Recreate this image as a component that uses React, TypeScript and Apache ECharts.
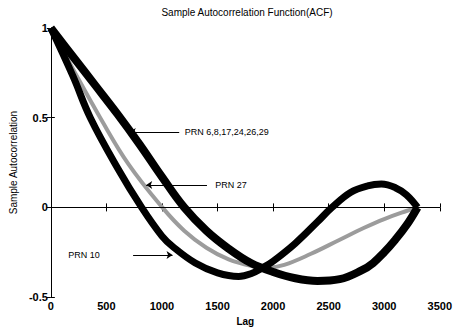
import React, { useEffect, useRef } from "react";
import * as echarts from "echarts";

// PRN 6,8,17,24,26,29
const lagA = [0, 200, 400, 600, 800, 1000, 1200, 1400, 1600, 1800, 2000, 2200, 2400, 2600, 2800, 2900, 3000, 3100, 3200, 3300];
const acfA = [1, 0.84, 0.68, 0.52, 0.35, 0.17, 0.0, -0.13, -0.23, -0.31, -0.36, -0.395, -0.41, -0.4, -0.35, -0.31, -0.25, -0.18, -0.1, 0];

// PRN 10
const lagB = [0, 200, 355, 600, 817, 1000, 1100, 1300, 1500, 1690, 1800, 1910, 2000, 2200, 2400, 2530, 2700, 2850, 2975, 3100, 3200, 3300];
const acfB = [1, 0.73, 0.5, 0.22, 0, -0.16, -0.22, -0.31, -0.365, -0.385, -0.37, -0.335, -0.3, -0.2, -0.08, 0, 0.085, 0.12, 0.13, 0.11, 0.07, 0];

// PRN 27
const lagC = [0, 200, 444, 700, 1003, 1200, 1400, 1600, 1800, 1950, 2100, 2336, 2600, 2815, 3000, 3200, 3300];
const acfC = [1, 0.77, 0.5, 0.24, 0, -0.13, -0.225, -0.29, -0.325, -0.335, -0.32, -0.26, -0.18, -0.115, -0.065, -0.02, 0];

// annotations: label text, label anchor [lag, value], arrow tail, arrow head
const annLabels = ["PRN 6,8,17,24,26,29", "PRN 27", "PRN 10"];
const annLabelAt = [[1200, 0.42], [1474, 0.125], [151, -0.265]];
const annArrowFrom = [[1155, 0.42], [1405, 0.125], [740, -0.265]];
const annArrowTo = [[710, 0.42], [858, 0.125], [1095, -0.265]];

const xTicks = { min: 0, max: 3500, interval: 500 };
const yTicks = { min: -0.5, max: 1, interval: 0.5 };

const zip = (xs: number[], ys: number[]) => xs.map((x, i) => [x, ys[i]]);

export default function App() {
  const ref = useRef<HTMLDivElement>(null);
  useEffect(() => {
    if (!ref.current) return;
    const chart = echarts.init(ref.current, null, { renderer: "svg" });
    const font = "Liberation Sans, Arial, sans-serif";
    const axisCommon = {
      type: "value" as const,
      axisLine: { show: true, lineStyle: { color: "#000", width: 1 } },
      axisTick: { show: true, inside: true, length: 4, lineStyle: { color: "#000" } },
      splitLine: { show: false },
    };
    const plain = (v: number) => String(v);
    chart.setOption({
      animation: false,
      backgroundColor: "#fff",
      textStyle: { fontFamily: font },
      graphic: [
        {
          type: "text",
          x: 247,
          y: 7,
          style: {
            text: "Sample Autocorrelation Function(ACF)",
            textAlign: "center",
            fontSize: 10,
            fontFamily: font,
            fill: "#000",
          },
        },
      ],
      grid: { left: 50, right: 11, top: 28, bottom: 31 },
      xAxis: [
        {
          ...axisCommon,
          ...xTicks,
          position: "bottom",
          axisLabel: { color: "#000", fontSize: 11, fontWeight: "bold", margin: 3, fontFamily: font, formatter: plain },
          name: "Lag",
          nameLocation: "middle",
          nameGap: 14,
          nameTextStyle: { color: "#000", fontSize: 10, fontWeight: "bold", fontFamily: font },
        },
        { ...axisCommon, ...xTicks, position: "top", axisLabel: { show: false } },
      ],
      yAxis: [
        {
          ...axisCommon,
          ...yTicks,
          position: "left",
          axisLabel: { color: "#000", fontSize: 11, fontWeight: "bold", margin: 3, fontFamily: font, formatter: plain },
          name: "Sample Autocorrelation",
          nameLocation: "middle",
          nameGap: 31,
          nameTextStyle: { color: "#000", fontSize: 10, fontFamily: font },
        },
        { ...axisCommon, ...yTicks, position: "right", axisLabel: { show: false } },
      ],
      series: [
        {
          type: "line",
          data: [],
          z: 1,
          markLine: {
            silent: true,
            symbol: "none",
            label: { show: false },
            lineStyle: { color: "#000", width: 1, type: "solid" },
            data: [{ yAxis: 0 }],
          },
        },
        {
          name: "PRN 27",
          type: "line",
          data: zip(lagC, acfC),
          smooth: 0.4,
          showSymbol: false,
          z: 2,
          lineStyle: { color: "#9c9c9c", width: 4 },
        },
        {
          name: "PRN 10",
          type: "line",
          data: zip(lagB, acfB),
          smooth: 0.4,
          showSymbol: false,
          z: 3,
          lineStyle: { color: "#000", width: 7 },
        },
        {
          name: "PRN 6,8,17,24,26,29",
          type: "line",
          data: zip(lagA, acfA),
          smooth: 0.4,
          showSymbol: false,
          z: 3,
          lineStyle: { color: "#000", width: 8 },
        },
        {
          type: "line",
          data: [],
          z: 4,
          markLine: {
            silent: true,
            symbol: ["none", "arrow"],
            symbolSize: 6,
            label: { show: false },
            lineStyle: { color: "#000", width: 1.2, type: "solid" },
            data: annArrowFrom.map((f, i) => [{ coord: f }, { coord: annArrowTo[i] }]),
          },
          markPoint: {
            silent: true,
            symbol: "circle",
            symbolSize: 1,
            itemStyle: { color: "rgba(0,0,0,0)" },
            label: {
              show: true,
              position: "right",
              distance: 0,
              color: "#000",
              fontSize: 9,
              fontFamily: font,
              formatter: (p: any) => p.name,
            },
            data: annLabels.map((t, i) => ({ name: t, coord: annLabelAt[i] })),
          },
        },
      ],
    });
    return () => chart.dispose();
  }, []);
  return (
    <div
      ref={ref}
      style={{ position: "fixed", left: 0, top: 0, width: 455, height: 331, background: "#fff" }}
    />
  );
}
